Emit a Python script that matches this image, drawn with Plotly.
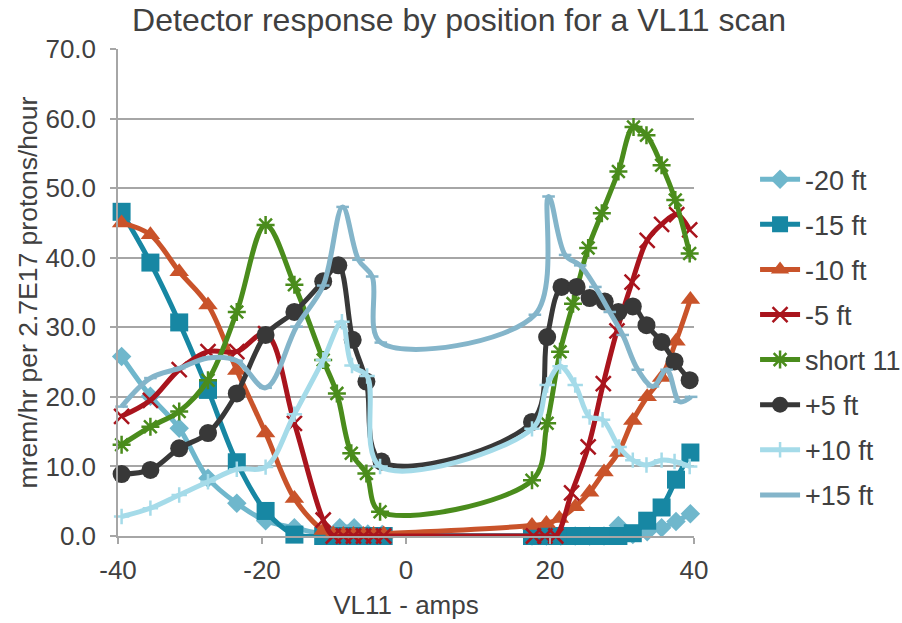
import plotly.graph_objects as go

# VL11 current (amps) and detector dose rates for each detector position
x_m20 = [-39.5, -35.5, -31.5, -27.5, -23.5, -19.5, -15.5, -11.5, -9.2, -7.2, -5.3, -3.3,
         17.5, 19.5, 21.5, 23.5, 25.5, 27.5, 29.5, 31.5, 33.5, 35.5, 37.5, 39.5]
y_m20 = [25.8, 20.1, 15.5, 8.3, 4.7, 2.2, 1.2, 0.4, 1.2, 1.2, 0.3, 0.2,
         0, 0, 0, 0, 0, 0, 1.5, 0.2, 0.6, 1.2, 2.1, 3.2]

x_m15 = [-39.5, -35.5, -31.5, -27.5, -23.5, -19.5, -15.5, -11.5, -10.1, -8.7, -7.3, -5.9, -4.5, -3.1,
         17.5, 19.5, 21.5, 23.5, 25.5, 27.5, 29.5, 31.5, 33.5, 35.5, 37.5, 39.5]
y_m15 = [46.6, 39.3, 30.7, 21.0, 10.6, 3.6, 0.2, 0, 0, 0, 0, 0, 0, 0,
         0, 0, 0, 0, 0, 0, 0, 0.4, 2.2, 4.1, 8.1, 12.0]

x_m10 = [-39.5, -35.5, -31.5, -27.5, -23.5, -19.5, -15.5, -11.5, -10.1, -8.7, -7.3, -5.9, -4.5, -3.1,
         17.5, 19.5, 21.3, 23.5, 25.5, 27.5, 29.5, 31.5, 33.5, 35.5, 37.5, 39.5]
y_m10 = [45.0, 43.3, 38.0, 33.2, 23.8, 14.8, 5.4, 0.8, 0.3, 0.2, 0.2, 0.2, 0.2, 0.3,
         1.5, 1.8, 2.5, 4.2, 6.3, 9.2, 12.0, 16.6, 20.0, 22.8, 28.0, 34.0]

x_m5 = [-39.5, -35.5, -31.5, -27.5, -23.5, -19.5, -15.5, -11.5, -10.1, -8.7, -7.3, -5.9, -4.5, -3.1,
        17.7, 19.3, 20.8, 23.0, 25.3, 27.4, 29.3, 31.4, 33.5, 35.5, 37.6, 39.4]
y_m5 = [17.2, 19.5, 23.9, 26.5, 26.5, 29.1, 16.2, 2.3, 0, 0, 0, 0, 0, 0,
        0, 0, 0, 6.2, 12.8, 21.9, 29.5, 36.5, 42.5, 44.8, 46.2, 44.0]

x_s11 = [-39.5, -35.5, -31.5, -27.5, -23.5, -19.5, -15.5, -11.5, -9.6, -7.6, -5.5, -3.6,
         17.5, 19.6, 21.4, 23.2, 25.3, 27.2, 29.5, 31.6, 33.4, 35.5, 37.4, 39.4]
y_s11 = [13.1, 15.7, 17.9, 22.4, 32.2, 44.7, 36.1, 25.3, 20.5, 11.9, 9.0, 3.5,
         8.0, 16.2, 26.5, 33.4, 41.4, 46.4, 52.4, 58.8, 57.6, 53.3, 48.3, 40.6]

x_p5 = [-39.5, -35.5, -31.5, -27.5, -23.5, -19.5, -15.5, -11.5, -9.4, -7.4, -5.5, -3.4,
        17.5, 19.6, 21.6, 23.7, 25.5, 27.6, 29.5, 31.5, 33.4, 35.5, 37.3, 39.4]
y_p5 = [8.9, 9.5, 12.6, 14.8, 20.5, 28.9, 32.2, 36.6, 38.9, 28.2, 22.2, 10.7,
        16.4, 28.6, 35.8, 35.8, 34.2, 33.7, 32.2, 33.0, 30.3, 27.9, 25.1, 22.4]

x_p10 = [-39.5, -35.5, -31.5, -27.5, -23.5, -19.5, -15.5, -11.5, -8.9, -7.5, -5.4, -3.6,
         17.5, 19.6, 21.4, 23.5, 25.5, 27.3, 29.6, 31.5, 33.4, 35.5, 37.3, 39.4]
y_p10 = [2.8, 4.0, 5.9, 7.8, 9.6, 9.9, 17.5, 25.3, 30.8, 24.5, 23.0, 10.0,
         15.4, 21.7, 24.4, 21.7, 17.1, 16.7, 12.8, 10.9, 10.2, 10.9, 10.7, 10.0]

x_p15 = [-39.5, -35.5, -31.5, -27.5, -23.5, -19.5, -15.2, -11.5, -8.8, -6.6, -4.7, -3.5,
         17.9, 19.8, 22.1, 24.2, 26.3, 28.3, 30.1, 32.2, 34.3, 36.2, 38.0, 39.6]
y_p15 = [18.6, 22.7, 24.1, 25.6, 25.2, 21.3, 30.1, 36.0, 47.3, 39.7, 37.3, 27.8,
         31.8, 48.8, 40.4, 38.9, 35.8, 32.2, 28.9, 23.9, 21.5, 23.9, 19.3, 20.0]

x_ticks = [-40, -20, 0, 20, 40]

FONT = "Liberation Sans, Arial, sans-serif"
TXT = "#404040"
GRID = "#a6a6a6"

# (name, x, y, colour, marker symbol, marker size, open symbol?)
series = [
    ("-20 ft", x_m20, y_m20, "#6fb7cc", "diamond", 15, False),
    ("-15 ft", x_m15, y_m15, "#1787a3", "square", 18, False),
    ("-10 ft", x_m10, y_m10, "#c9532a", "triangle-up", 17, False),
    ("-5 ft", x_m5, y_m5, "#a9141d", "x-thin-open", 15, True),
    ("short 11", x_s11, y_s11, "#4a8c1c", "asterisk-open", 15, True),
    ("+5 ft", x_p5, y_p5, "#383838", "circle", 18, False),
    ("+10 ft", x_p10, y_p10, "#a5dbe9", "cross-thin-open", 11, True),
    ("+15 ft", x_p15, y_p15, "#84b5ca", "line-ew-open", 9, True),
]

fig = go.Figure()
for name, xs, ys, col, sym, size, is_open in series:
    if is_open:
        marker = dict(symbol=sym, size=size, color=col, line=dict(color=col, width=2.5))
    else:
        marker = dict(symbol=sym, size=size, color=col, line=dict(width=0))
    fig.add_trace(go.Scatter(
        x=xs, y=ys, name=name, mode="lines+markers", legendgroup=name,
        line=dict(color=col, width=5, shape="spline", smoothing=1.0),
        marker=marker, cliponaxis=False,
    ))

fig.update_layout(
    width=902, height=623,
    margin=dict(l=118, r=208, t=49, b=87, autoexpand=False),
    paper_bgcolor="white", plot_bgcolor="white",
    font=dict(family=FONT, color=TXT, size=25),
    title=dict(text="Detector response by position for a VL11 scan",
               x=0.509, xref="container", xanchor="center",
               y=1 - 20 / 623, yref="container", yanchor="middle",
               font=dict(size=32, color=TXT, family=FONT)),
    legend=dict(x=1.106, xanchor="left", y=0.782, yanchor="top",
                font=dict(size=27, color=TXT, family=FONT),
                tracegroupgap=7, bgcolor="rgba(0,0,0,0)", itemwidth=40),
    showlegend=True,
)

fig.update_xaxes(
    range=[-40, 40], tickvals=x_ticks, ticktext=[str(v) for v in x_ticks],
    showgrid=False, zeroline=False, showline=True, linecolor=GRID, linewidth=1.5,
    ticks="outside", ticklen=6, tickcolor=GRID, tickwidth=1.5, ticklabelstandoff=4,
    tickfont=dict(size=26, color=TXT, family=FONT),
    title=dict(text="VL11 - amps", font=dict(size=26, color=TXT, family=FONT), standoff=12),
)
fig.update_yaxes(
    range=[0, 70], dtick=10, tickformat=".1f",
    showgrid=True, gridcolor=GRID, gridwidth=1.5,
    zeroline=False, showline=True, linecolor=GRID, linewidth=1.5,
    ticks="outside", ticklen=6, tickcolor=GRID, tickwidth=1.5, ticklabelstandoff=9,
    tickfont=dict(size=26, color=TXT, family=FONT),
    title=dict(text="mrem/hr per 2.7E17 protons/hour",
               font=dict(size=26.5, color=TXT, family=FONT), standoff=0),
)

fig.write_html("out.html")
